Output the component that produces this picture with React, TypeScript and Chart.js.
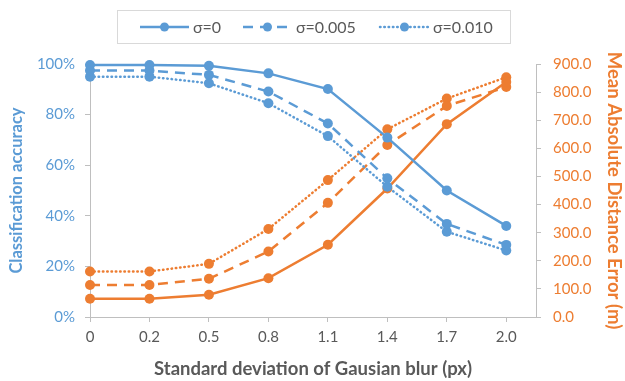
import React, { useEffect, useRef } from 'react';
import { Chart, registerables } from 'chart.js';

Chart.register(...registerables);

const categories = ['0', '0.2', '0.5', '0.8', '1.1', '1.4', '1.7', '2.0'];
const accSigma0 = [99.6, 99.6, 99.3, 96.3, 90.1, 70.9, 50.0, 36.0];
const accSigma005 = [97.4, 97.4, 95.7, 89.1, 76.5, 54.8, 36.8, 28.5];
const accSigma010 = [95.0, 95.0, 92.4, 84.5, 71.5, 51.5, 33.7, 26.3];
const errSigma0 = [65, 65, 79, 138, 257, 457, 686, 836];
const errSigma005 = [114, 114, 136, 233, 406, 612, 751, 818];
const errSigma010 = [162, 162, 189, 313, 487, 668, 777, 853];
const legendLabels = ['σ=0', 'σ=0.005', 'σ=0.010'];
const leftTicks = [0, 20, 40, 60, 80, 100];
const rightTicks = [0, 100, 200, 300, 400, 500, 600, 700, 800, 900];

const BLUE = '#5B9BD5';
const ORANGE = '#ED7D31';
const GREY = '#595959';
const AXIS = '#BFBFBF';
const FONT = 'Lato, "Open Sans", sans-serif';

const dashStyles = [[], [10, 7], [0.5, 3.8]];
const capStyles = ['butt', 'butt', 'round'];

const toXY = (arr: number[]) => arr.map((v, i) => ({ x: i, y: v }));

const legendPlugin = {
  id: 'customLegend',
  afterDraw(chart: any) {
    const ctx = chart.ctx as CanvasRenderingContext2D;
    ctx.save();
    ctx.strokeStyle = '#D9D9D9';
    ctx.lineWidth = 1;
    ctx.strokeRect(117.5, 10.5, 393, 33);
    const starts = [140, 243, 380];
    const y = 27;
    ctx.font = `16px ${FONT}`;
    ctx.textBaseline = 'middle';
    legendLabels.forEach((lab, i) => {
      const x0 = starts[i];
      ctx.strokeStyle = BLUE;
      ctx.lineWidth = 2.5;
      ctx.setLineDash(dashStyles[i]);
      ctx.lineCap = capStyles[i] as CanvasLineCap;
      ctx.beginPath();
      ctx.moveTo(x0, y);
      ctx.lineTo(x0 + 49, y);
      ctx.stroke();
      ctx.setLineDash([]);
      ctx.fillStyle = BLUE;
      ctx.beginPath();
      ctx.arc(x0 + 24.5, y, 4.5, 0, Math.PI * 2);
      ctx.fill();
      ctx.fillStyle = GREY;
      ctx.textAlign = 'left';
      ctx.fillText(lab, x0 + 53, y + 1);
    });
    ctx.restore();
  },
};

export default function App() {
  const ref = useRef<HTMLCanvasElement>(null);
  useEffect(() => {
    if (!ref.current) return;
    const accSeries = [accSigma0, accSigma005, accSigma010];
    const errSeries = [errSigma0, errSigma005, errSigma010];
    const datasets: any[] = [];
    accSeries.forEach((s, i) => {
      datasets.push({
        label: legendLabels[i],
        data: toXY(s),
        yAxisID: 'yL',
        borderColor: BLUE,
        backgroundColor: BLUE,
        borderWidth: 2.5,
        borderDash: dashStyles[i],
        borderCapStyle: capStyles[i],
        pointRadius: 5,
        pointBorderWidth: 0,
        pointBackgroundColor: BLUE,
        tension: 0,
        clip: false,
      });
    });
    errSeries.forEach((s, i) => {
      datasets.push({
        label: legendLabels[i] + ' err',
        data: toXY(s),
        yAxisID: 'yR',
        borderColor: ORANGE,
        backgroundColor: ORANGE,
        borderWidth: 2.5,
        borderDash: dashStyles[i],
        borderCapStyle: capStyles[i],
        pointRadius: 5,
        pointBorderWidth: 0,
        pointBackgroundColor: ORANGE,
        tension: 0,
        clip: false,
      });
    });
    const chart = new Chart(ref.current, {
      type: 'line',
      data: { datasets },
      plugins: [legendPlugin],
      options: {
        responsive: false,
        animation: false,
        devicePixelRatio: 1,
        layout: { padding: { top: 64, left: 0, right: 0, bottom: 0 } },
        plugins: { legend: { display: false }, tooltip: { enabled: false } },
        scales: {
          x: {
            type: 'linear',
            position: 'bottom',
            min: 0,
            max: categories.length - 0.5,
            afterBuildTicks: (s: any) => {
              s.ticks = categories.map((_, i) => ({ value: i }));
            },
            afterFit: (s: any) => {
              s.height = 64;
            },
            ticks: {
              callback: (v: any) => categories[v as number] ?? '',
              color: GREY,
              font: { family: FONT, size: 15 },
              padding: 6,
              autoSkip: false,
              maxRotation: 0,
            },
            grid: { drawOnChartArea: false, color: AXIS, tickLength: 5 },
            border: { color: AXIS, width: 1 },
            title: {
              display: true,
              text: 'Standard deviation of Gausian blur (px)',
              color: GREY,
              font: { family: FONT, size: 18.5, weight: 'bold' },
              padding: { top: 4, bottom: 1 },
            },
          },
          yL: {
            type: 'linear',
            position: 'left',
            min: 0,
            max: 100,
            afterBuildTicks: (s: any) => {
              s.ticks = leftTicks.map((v) => ({ value: v }));
            },
            afterFit: (s: any) => {
              s.width = 90;
            },
            ticks: {
              callback: (v: any) => `${v}%`,
              color: BLUE,
              font: { family: FONT, size: 15 },
              padding: 10,
            },
            grid: { drawOnChartArea: false, color: AXIS, tickLength: 5 },
            border: { color: AXIS, width: 1 },
            title: {
              display: true,
              text: 'Classification accuracy',
              color: BLUE,
              font: { family: FONT, size: 16.5, weight: 'bold' },
              padding: { top: 7, bottom: 0 },
            },
          },
          yR: {
            type: 'linear',
            position: 'right',
            min: 0,
            max: 900,
            afterBuildTicks: (s: any) => {
              s.ticks = rightTicks.map((v) => ({ value: v }));
            },
            afterFit: (s: any) => {
              s.width = 89;
            },
            ticks: {
              callback: (v: any) => Number(v).toFixed(1),
              color: ORANGE,
              font: { family: FONT, size: 15 },
              padding: 12,
            },
            grid: { drawOnChartArea: false, color: AXIS, tickLength: 5 },
            border: { color: AXIS, width: 1 },
            title: {
              display: true,
              text: 'Mean Absolute Distance Error (m)',
              color: ORANGE,
              font: { family: FONT, size: 18.5, weight: 'bold' },
              padding: { top: 0, bottom: 0 },
            },
          },
        },
      } as any,
    });
    return () => chart.destroy();
  }, []);
  return (
    <div style={{ position: 'absolute', left: 0, top: 0, width: 625, height: 381, background: '#fff' }}>
      <canvas ref={ref} width={625} height={381} />
    </div>
  );
}
